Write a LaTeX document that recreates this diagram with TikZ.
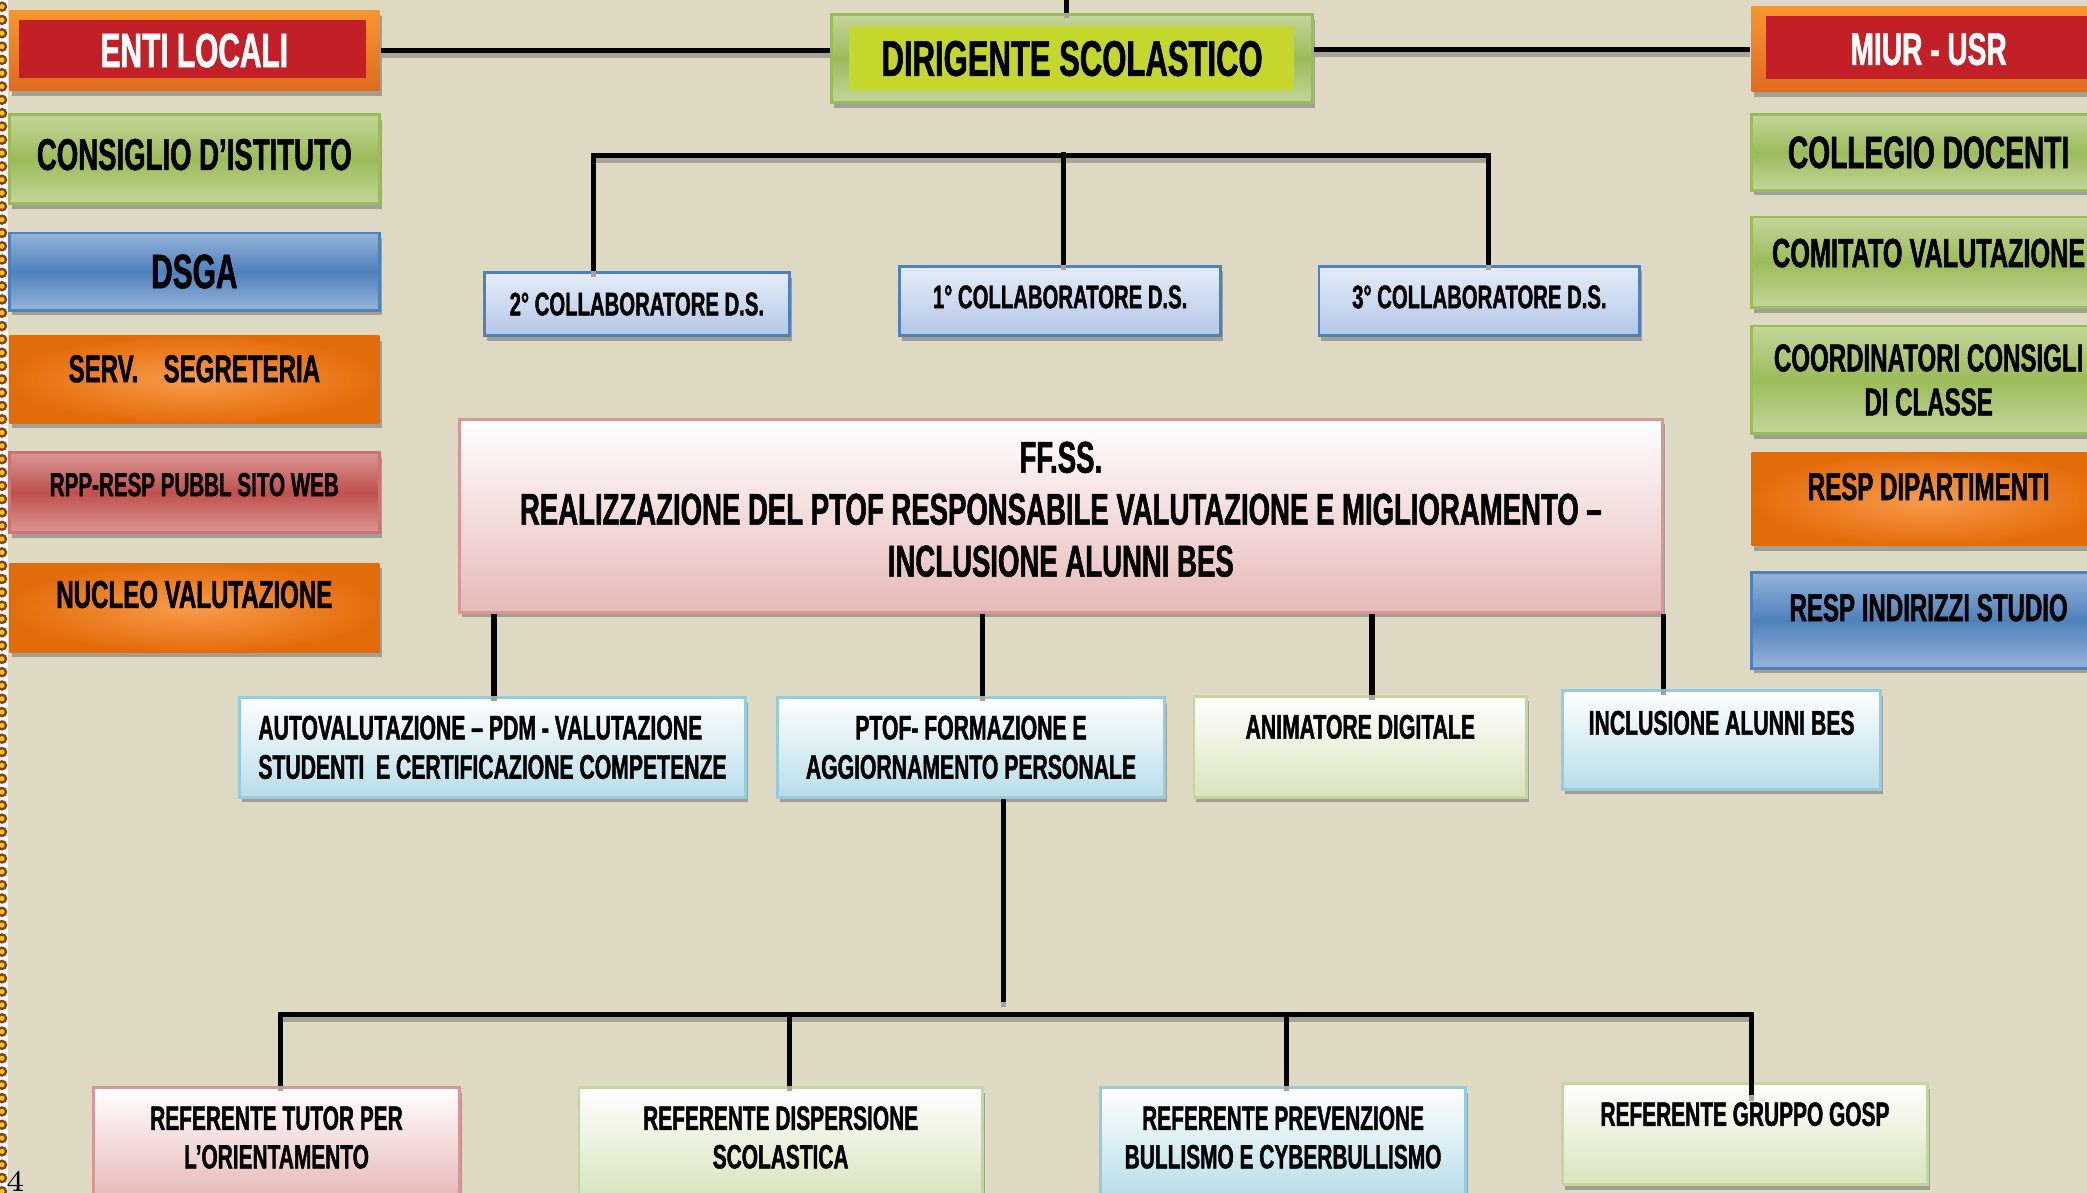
\documentclass[tikz,border=0pt]{standalone}
\usepackage{fontspec}
\usepackage{tikz}
\usetikzlibrary{calc, shadows}
\newfontfamily\orgfont[FakeStretch=0.62, FakeBold=1.2]{Liberation Sans}
\newcommand\boxfont[2]{\orgfont\bfseries\fontsize{#1}{#2}\selectfont}
\definecolor{bgtan}{HTML}{DDD9C3}
\definecolor{innerred}{HTML}{C31F27}
\definecolor{orangetop}{HTML}{F7962E}
\definecolor{orangebot}{HTML}{DF6A1F}
\definecolor{orangelite}{HTML}{F99B4C}
\definecolor{orangedark}{HTML}{E36C0A}
\definecolor{greenlite}{HTML}{C3D69B}
\definecolor{greenmid}{HTML}{9BBB59}
\definecolor{dirigcore}{HTML}{C5D72C}
\definecolor{bluelite}{HTML}{95B3D7}
\definecolor{bluemid}{HTML}{4F81BD}
\definecolor{redlite}{HTML}{D99694}
\definecolor{redmid}{HTML}{C0504D}
\definecolor{collabtop}{HTML}{E4ECF7}
\definecolor{collabbot}{HTML}{B4C7E7}
\definecolor{pinkbot}{HTML}{E6B9B8}
\definecolor{aquabot}{HTML}{B7DDE8}
\definecolor{aquaedge}{HTML}{93CDDD}
\definecolor{limebot}{HTML}{D7E4BD}
\definecolor{shadowgray}{HTML}{A9A396}
\definecolor{beadyellow}{HTML}{F5C518}
\definecolor{beadbrown}{HTML}{8A3E12}

\begin{document}
\begin{tikzpicture}[x=1cm, y=-1cm,
  box/.style={rectangle, inner sep=0pt, align=center, line width=0.6pt,
    drop shadow={shadow xshift=0.5pt, shadow yshift=-1.1pt, fill=black!65, opacity=0.45}},
  leftbox/.style={box, minimum width=2.78cm},
  rightbox/.style={box, minimum width=2.66cm},
  framebar/.style={top color=orangetop, bottom color=orangebot},
  greenbar/.style={draw=greenmid, top color=greenlite, bottom color=greenlite, middle color=greenmid},
  bluebar/.style={draw=bluemid, top color=bluelite, bottom color=bluelite, middle color=bluemid},
  redbar/.style={draw=redmid!80, top color=redlite, bottom color=redlite, middle color=redmid},
  glowbar/.style={inner color=orangelite, outer color=orangedark},
  collab/.style={box, draw=bluemid, top color=collabtop, bottom color=collabbot,
    minimum width=2.41cm, minimum height=0.52cm, font=\boxfont{7}{8}},
  pinkcard/.style={box, draw=redlite, top color=white, bottom color=pinkbot},
  aquacard/.style={box, draw=aquaedge, top color=white, bottom color=aquabot},
  limecard/.style={box, draw=greenlite, top color=white, bottom color=limebot},
  core/.style n args={5}{path picture={\fill[#1] ([xshift=#2, yshift=#3]path picture bounding box.south west)
    rectangle ([xshift=-#4, yshift=-#5]path picture bounding box.north east);}},
  lift/.style={text depth=#1},
  conn/.style={line width=1.1pt, black,
    preaction={draw=shadowgray, line width=1.1pt, transform canvas={yshift=-1.1pt}}},
]
\useasboundingbox (0,0) rectangle (15.68,8.96);
\clip (0,0) rectangle (15.68,8.96);
\fill[bgtan] (0,0) rectangle (15.68,8.96);

% bordo decorato
\fill[white] (0,0) rectangle (0.06,8.96);
\foreach \k in {0,...,89}
  \filldraw[fill=beadyellow, draw=beadbrown, line width=0.5pt] (0.015,0.05+\k*0.1) circle (0.03);
\node[inner sep=0pt, font=\fontsize{6.4}{7}\selectfont] (pagina) at (0.115,8.875) {4};

% colonna sinistra
\node[leftbox, framebar, minimum height=0.60cm, core={innerred}{2pt}{2.6pt}{2.8pt}{2pt},
  text=white, font=\boxfont{10.3}{12}] (enti) at (1.46,0.38) {ENTI LOCALI};
\node[leftbox, greenbar, minimum height=0.67cm, lift=0.07cm, font=\boxfont{9.5}{11}] (consiglio) at (1.46,1.195) {CONSIGLIO D’ISTITUTO};
\node[leftbox, bluebar, minimum height=0.58cm, font=\boxfont{10.3}{12}] (dsga) at (1.46,2.04) {DSGA};
\node[leftbox, glowbar, minimum height=0.66cm, lift=0.16cm, font=\boxfont{8.3}{10}] (segreteria) at (1.46,2.85) {SERV.\hspace{4pt} SEGRETERIA};
\node[leftbox, redbar, minimum height=0.60cm, lift=0.12cm, font=\boxfont{7.1}{9}] (sitoweb) at (1.46,3.70) {RPP-RESP PUBBL SITO WEB};
\node[leftbox, glowbar, minimum height=0.67cm, lift=0.2cm, font=\boxfont{8.3}{10}] (nucleo) at (1.46,4.565) {NUCLEO VALUTAZIONE};

% colonna destra
\node[rightbox, framebar, minimum height=0.64cm, core={innerred}{3.1pt}{2.8pt}{0pt}{2pt},
  text=white, font=\boxfont{9.7}{12}] (miur) at (14.49,0.37) {MIUR - USR};
\node[rightbox, greenbar, minimum height=0.57cm, font=\boxfont{9.7}{11}] (collegio) at (14.49,1.145) {COLLEGIO DOCENTI};
\node[rightbox, greenbar, minimum height=0.68cm, lift=0.14cm, font=\boxfont{8.7}{10}] (comitato) at (14.49,1.97) {COMITATO VALUTAZIONE};
\node[rightbox, greenbar, minimum height=0.81cm, font=\boxfont{8.3}{9.4}] (coordinatori) at (14.49,2.855) {COORDINATORI CONSIGLI\\DI CLASSE};
\node[rightbox, glowbar, minimum height=0.70cm, lift=0.19cm, font=\boxfont{8.3}{10}] (dipartimenti) at (14.49,3.75) {RESP DIPARTIMENTI};
\node[rightbox, bluebar, minimum height=0.72cm, lift=0.19cm, font=\boxfont{8.3}{10}] (indirizzi) at (14.49,4.66) {RESP INDIRIZZI STUDIO};

% dirigente e collaboratori
\node[box, greenbar, minimum width=3.61cm, minimum height=0.66cm, core={dirigcore}{3.7pt}{2.6pt}{4pt}{2.4pt},
  font=\boxfont{10.7}{12}] (dirigente) at (8.055,0.44) {DIRIGENTE SCOLASTICO};
\node[collab, minimum width=2.29cm, minimum height=0.47cm] (col2) at (4.785,2.285) {2° COLLABORATORE D.S.};
\node[collab, lift=0.06cm] (col1) at (7.965,2.26) {1° COLLABORATORE D.S.};
\node[collab, lift=0.06cm] (col3) at (11.115,2.26) {3° COLLABORATORE D.S.};

% funzioni strumentali
\node[pinkcard, minimum width=9.04cm, minimum height=1.45cm, lift=0.1cm, font=\boxfont{9.5}{11.1}] (ffss) at (7.97,3.875)
  {FF.SS.\\REALIZZAZIONE DEL PTOF RESPONSABILE VALUTAZIONE E MIGLIORAMENTO –\\INCLUSIONE ALUNNI BES};
\node[aquacard, minimum width=3.80cm, minimum height=0.75cm, align=left, font=\boxfont{7.3}{8.4}] (autoval) at (3.70,5.615)
  {AUTOVALUTAZIONE – PDM - VALUTAZIONE\\STUDENTI\ \ E CERTIFICAZIONE COMPETENZE};
\node[aquacard, minimum width=2.91cm, minimum height=0.75cm, font=\boxfont{7.3}{8.4}] (ptof) at (7.295,5.615)
  {PTOF- FORMAZIONE E\\AGGIORNAMENTO PERSONALE};
\node[limecard, minimum width=2.50cm, minimum height=0.76cm, lift=0.3cm, font=\boxfont{7.3}{8.4}] (animatore) at (10.22,5.61) {ANIMATORE DIGITALE};
\node[aquacard, minimum width=2.39cm, minimum height=0.74cm, lift=0.26cm, font=\boxfont{7.3}{8.4}] (inclusione) at (12.935,5.56) {INCLUSIONE ALUNNI BES};

% referenti
\node[pinkcard, minimum width=2.755cm, minimum height=0.83cm, lift=0.08cm, font=\boxfont{7.2}{8.25}] (tutor) at (2.0775,8.585)
  {REFERENTE TUTOR PER\\L’ORIENTAMENTO};
\node[limecard, minimum width=3.03cm, minimum height=0.83cm, lift=0.08cm, font=\boxfont{7.2}{8.25}] (dispersione) at (5.865,8.585)
  {REFERENTE DISPERSIONE\\SCOLASTICA};
\node[aquacard, minimum width=2.74cm, minimum height=0.83cm, lift=0.08cm, font=\boxfont{7.2}{8.25}] (bullismo) at (9.64,8.585)
  {REFERENTE PREVENZIONE\\BULLISMO E CYBERBULLISMO};
\node[limecard, minimum width=2.74cm, minimum height=0.76cm, lift=0.3cm, font=\boxfont{7.2}{8.25}] (gosp) at (13.11,8.52) {REFERENTE GRUPPO GOSP};

% collegamenti
\draw[conn] (enti.east) -- (enti.east -| dirigente.west);
\draw[conn] (miur.west) -- (miur.west -| dirigente.east);
\coordinate (topedge) at (8.01,0);
\draw[conn] (topedge) -- (topedge |- dirigente.north);

\coordinate (cbusL) at (4.46,1.17);
\coordinate (cbusM) at (7.99,1.14);
\coordinate (cbusR) at (11.18,1.17);
\draw[conn] (col2.north -| cbusL) -- (cbusL) -- (cbusR) -- (cbusR |- col3.north);
\draw[conn] (cbusM) -- (cbusM |- col1.north);

\draw[conn] ($(ffss.south west)!0.03!(ffss.south east)$) coordinate (f1) -- (f1 |- autoval.north);
\draw[conn] ($(ffss.south west)!0.435!(ffss.south east)$) coordinate (f2) -- (f2 |- ptof.north);
\draw[conn] ($(ffss.south west)!0.758!(ffss.south east)$) coordinate (f3) -- (f3 |- animatore.north);
\draw[conn] (ffss.south east) -- (ffss.south east |- inclusione.north);

\coordinate (rbusL) at (2.11,7.62);
\coordinate (rbusR) at (13.16,7.62);
\coordinate (gospin) at (13.16,8.23);
\draw[conn] ($(ptof.south west)!0.584!(ptof.south east)$) coordinate (p1) -- ($(p1 |- rbusL)+(0,-0.09)$);
\draw[conn] (tutor.north -| rbusL) -- (rbusL) -- (rbusR) -- (gospin);
\draw[conn] ($(rbusL)!0.346!(rbusR)$) coordinate (r2) -- (r2 |- dispersione.north);
\draw[conn] ($(rbusL)!0.684!(rbusR)$) coordinate (r3) -- (r3 |- bullismo.north);
\end{tikzpicture}
\end{document}
